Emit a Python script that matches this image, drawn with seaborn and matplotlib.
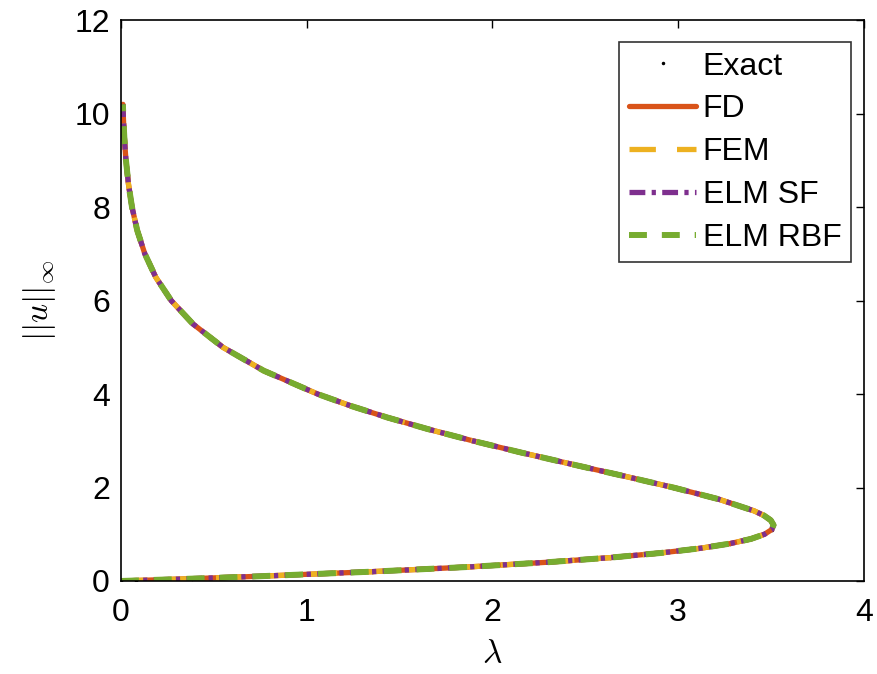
import seaborn as sns
import matplotlib.pyplot as plt
import pandas as pd

# data: points read along the solution branch (lower branch then upper branch)
lam = [0.0, 0.0793, 0.3837, 0.7360, 1.3541, 1.8686, 2.2918, 2.6350, 2.9080,
       3.1201, 3.2789, 3.3918, 3.4649, 3.5039, 3.5137, 3.4986, 3.4627, 3.4094,
       3.2186, 2.9743, 2.7038, 2.4257, 2.1530, 1.8937, 1.6528, 1.4330, 1.2351,
       1.0591, 0.7684, 0.5490, 0.3874, 0.2704, 0.1870, 0.1283, 0.0873, 0.0591,
       0.0398, 0.0266, 0.0177, 0.0145, 0.0118, 0.0100]
u_norm = [0.0, 0.01, 0.05, 0.1, 0.2, 0.3, 0.4, 0.5, 0.6,
          0.7, 0.8, 0.9, 1.0, 1.1, 1.2, 1.3, 1.4, 1.5,
          1.75, 2.0, 2.25, 2.5, 2.75, 3.0, 3.25, 3.5, 3.75,
          4.0, 4.5, 5.0, 5.5, 6.0, 6.5, 7.0, 7.5, 8.0,
          8.5, 9.0, 9.5, 9.75, 10.0, 10.2]

methods = ["FD", "FEM", "ELM SF", "ELM RBF"]
colors = ["#D95319", "#EDB120", "#7E2F8E", "#77AC30"]
dashes = [None, (5, 4), (3, 1.2, 0.8, 1.2), (3, 2.5)]
widths = [3.8, 3.8, 3.8, 4.3]

df = pd.DataFrame({"lam": lam, "u": u_norm})

sns.set_style("white")
plt.rcParams['font.family'] = ['Liberation Sans', 'DejaVu Sans']
plt.rcParams['mathtext.fontset'] = 'cm'
plt.rcParams['text.color'] = 'black'
plt.rcParams['axes.labelcolor'] = 'black'

fig = plt.figure(figsize=(8.77, 6.74), dpi=100)
ax = fig.add_axes([0.138, 0.138, 0.847, 0.832])

# exact solution as dots (hidden under the numerical curves)
ax.plot(df["lam"], df["u"], ".", color="black", markersize=3, label="Exact")
for m, c, d, w in zip(methods, colors, dashes, widths):
    sns.lineplot(data=df, x="lam", y="u", sort=False, estimator=None,
                 color=c, linewidth=w, label=m, ax=ax)
    if d is not None:
        ax.lines[-1].set_dashes(d)

ax.set_xlim(0, 4)
ax.set_ylim(0, 12)
ax.set_xticks([0, 1, 2, 3, 4])
ax.set_yticks([0, 2, 4, 6, 8, 10, 12])
ax.tick_params(direction="in", length=6, width=1, labelsize=23, top=True, right=True,
               colors="black")
ax.tick_params(axis="x", pad=12)
ax.tick_params(axis="y", pad=8)
ax.set_xlabel(r"$\lambda$", fontsize=24, labelpad=8)
ax.set_ylabel(r"$||u||_\infty$", fontsize=24, labelpad=12)
for spine in ax.spines.values():
    spine.set_edgecolor("black")
    spine.set_linewidth(1.2)

leg = ax.legend(loc="upper right", bbox_to_anchor=(0.9825, 0.961), fontsize=23,
                frameon=True, fancybox=False, edgecolor="black", handlelength=2.1,
                handletextpad=0.2, borderaxespad=0, labelspacing=0.4, borderpad=0.3)
leg.get_frame().set_linewidth(1.2)

fig.savefig("out.png", dpi=100)
